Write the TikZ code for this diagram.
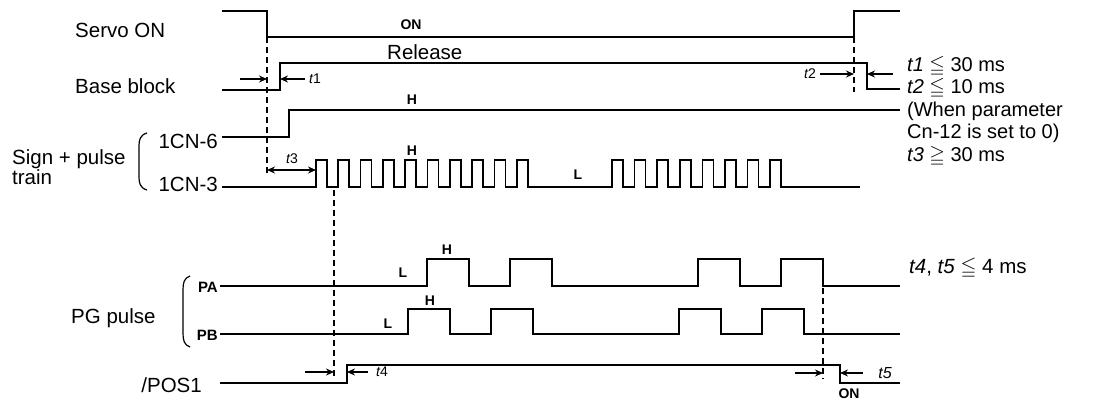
\documentclass[tikz,border=0pt]{standalone}
\usepackage{amssymb}
\usepackage{fontspec}
\setmainfont{Liberation Sans}
\usetikzlibrary{arrows.meta, positioning}

\begin{document}
\begin{tikzpicture}[
    x=1pt, y=-1pt,
    sig/.style={line width=1.7pt},
    guide/.style={line width=1.2pt, dash pattern=on 6pt off 4pt},
    tarrow/.style={-{Stealth[length=8pt, width=7pt]}, line width=1.3pt},
    lbl/.style={inner sep=0pt, font=\fontsize{20.5}{18}\selectfont},
    lvl/.style={inner sep=0pt, font=\fontsize{14}{16}\selectfont\bfseries},
    tlbl/.style={inner sep=0pt, font=\fontsize{14}{16}\selectfont\itshape}
]
\useasboundingbox (0,0) rectangle (1096,402);

% signal names
\node[lbl, anchor=west] (servo) at (75,30) {Servo ON};
\node[lbl, anchor=west] (base) at (75,86) {Base block};
\node[lbl, anchor=west, align=left] (sign) at (12,167) {Sign + pulse\\train};
\node[lbl, anchor=east] (cn6) at (218,141) {1CN-6};
\node[lbl, anchor=east] (cn3) at (218,184) {1CN-3};
\node[lbl, anchor=west] (pg) at (71,318) {PG pulse};
\node[lvl, anchor=east, font=\fontsize{15}{17}\selectfont\bfseries] (pa) at (218,287) {PA};
\node[lvl, anchor=east, font=\fontsize{15}{17}\selectfont\bfseries] (pb) at (218,335) {PB};
\node[lbl, anchor=east] (pos) at (202,385) {/POS1};

\draw[line width=1.2pt] (147,133) .. controls (140,135) and (139,140) .. (139,146)
    -- (139,177) .. controls (139,183) and (140,188) .. (147,190);
\draw[line width=1.2pt] (190,276) .. controls (184,278) and (183,283) .. (183,290)
    -- (183,333) .. controls (183,340) and (184,345) .. (190,347);

% waveforms
\draw[sig] (222,11) -- (267,11) -- (267,37) coordinate (sv1) -- (854,37) coordinate (sv2)
    -- (854,11) -- (900,11);
\draw[sig] (222,90) -- (280,90) coordinate (bb1) -- (280,63) -- (867,63)
    -- (867,89) coordinate (bb2) -- (900,89);
\draw[sig] (222,137) -- (289,137) -- (289,110) -- (900,110);
\draw[sig] (222,187) -- (316,187) coordinate (cn3a)
    \foreach \k in {1,...,10} {-- ++(0,-27) -- ++(11,0) -- ++(0,27) -- ++(11.3,0)}
    -- (612,187)
    \foreach \k in {1,...,8} {-- ++(0,-27) -- ++(11,0) -- ++(0,27) -- ++(11.6,0)}
    -- (860,187);
\draw[sig] (220,286)
    \foreach \r in {427,510,698,781} {-- (\r,286) -- (\r,259) -- (\r+42,259) -- (\r+42,286)}
    -- (900,286);
\draw[sig] (220,334)
    \foreach \r in {408,491,679,762} {-- (\r,334) -- (\r,309) -- (\r+42,309) -- (\r+42,334)}
    -- (900,334);
\draw[sig] (220,383) -- (347,383) -- (347,365) coordinate (ps1) -- (840,365)
    -- (840,383) coordinate (ps2) -- (900,383);

\node[lvl] (on1) at (411,25) {ON};
\node[lbl, anchor=west] (rel) at (387,52) {Release};
\node[lvl] (h1) at (412,100) {H};
\node[lvl] (h2) at (412,151) {H};
\node[lvl] (l1) at (578,175) {L};
\node[lvl] (l2) at (403,273) {L};
\node[lvl] (h3) at (447,250) {H};
\node[lvl] (l3) at (388,324) {L};
\node[lvl] (h4) at (430,301) {H};

% timing marks
\coordinate (pg1) at (334,190);
\coordinate (pa4) at (823,288);
\draw[guide] (sv1) -- (267,176);
\draw[guide] (sv2) -- (854,92);
\draw[guide] (pg1) -- (334,379);
\draw[guide] (pa4) -- (823,379);

\coordinate (t1l) at (240,79);
\coordinate (t1r) at (305,79);
\draw[tarrow] (t1l) -- (t1l -| sv1);
\draw[tarrow] (t1r) -- (t1r -| bb1);
\node[tlbl, right=4pt of t1r] (t1) {t\upshape1};

\coordinate (t2l) at (820,74);
\coordinate (t2r) at (893,74);
\draw[tarrow] (t2l) -- (t2l -| sv2);
\draw[tarrow] (t2r) -- (t2r -| bb2);
\node[tlbl, left=4pt of t2l] (t2) {t\upshape2};

\coordinate (t3l) at (267,170);
\draw[tarrow, {Stealth[length=8pt, width=7pt]}-{Stealth[length=8pt, width=7pt]}] (t3l) -- (t3l -| cn3a);
\node[tlbl] (t3) at (292,159) {t\upshape3};

\coordinate (t4l) at (305,372);
\coordinate (t4r) at (368,372);
\draw[tarrow] (t4l) -- (t4l -| pg1);
\draw[tarrow] (t4r) -- (t4r -| ps1);
\node[tlbl, right=8pt of t4r] (t4) {t\upshape4};

\coordinate (t5l) at (795,373);
\coordinate (t5r) at (863,373);
\draw[tarrow] (t5l) -- (t5l -| pa4);
\draw[tarrow] (t5r) -- (t5r -| ps2);
\node[tlbl, font=\fontsize{16}{18}\selectfont\itshape] (t5) at (885,373) {t5};
\node[lvl] (on2) at (849,394) {ON};

% conditions
\node[lbl, anchor=west, align=left, font=\fontsize{20}{22.5}\selectfont] (cond) at (907,111)
    {\textit{t1} $\leqq$ 30 ms\\\textit{t2} $\leqq$ 10 ms\\(When parameter\\Cn-12 is set to 0)\\\textit{t3} $\geqq$ 30 ms};
\node[lbl, anchor=west] (cond2) at (909,268) {\textit{t4}, \textit{t5} $\leqq$ 4 ms};
\end{tikzpicture}
\end{document}
